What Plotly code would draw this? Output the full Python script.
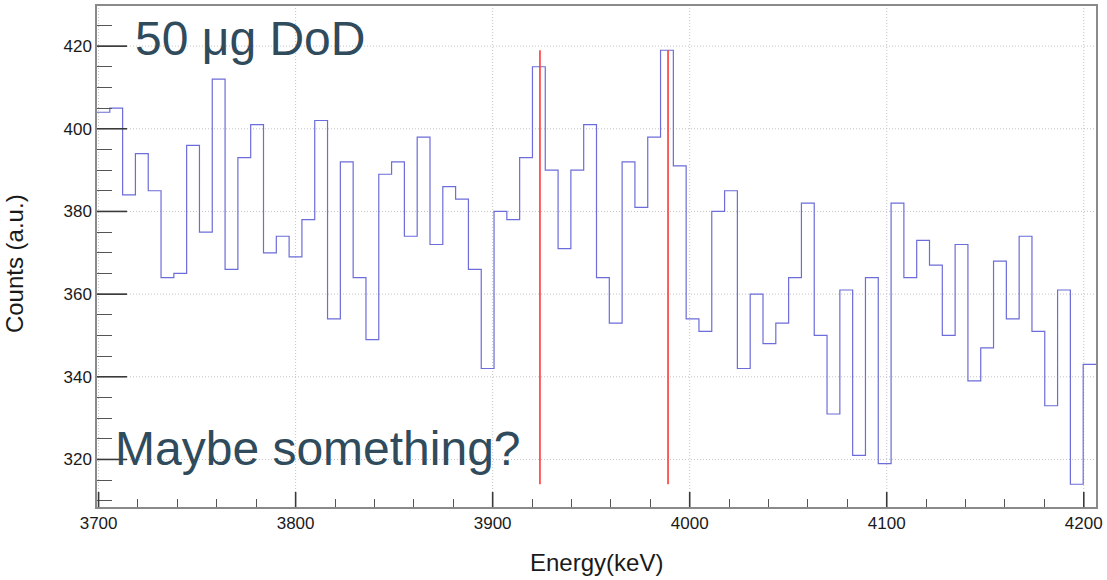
import numpy as np
import plotly.graph_objects as go

# Histogram binning (keV)
bin_low = 3699.2
bin_width = 6.5

# Counts per bin
counts = [
    404, 405, 384, 394, 385, 364, 365, 396, 375, 412,
    366, 393, 401, 370, 374, 369, 378, 402, 354, 392,
    364, 349, 389, 392, 374, 398, 372, 386, 383, 366,
    342, 380, 378, 393, 415, 390, 371, 390, 401, 364,
    353, 392, 381, 398, 419, 391, 354, 351, 380, 385,
    342, 360, 348, 353, 364, 382, 350, 331, 361, 321,
    364, 319, 382, 364, 373, 367, 350, 372, 339, 347,
    368, 354, 374, 351, 333, 361, 314, 343,
]

# Marker lines for the expected peak energies
marker_energies = [3924, 3989]
marker_ymin = 314
marker_ymax = 419

x_ticks = [3700, 3800, 3900, 4000, 4100, 4200]
y_ticks = [320, 340, 360, 380, 400, 420]

edges = bin_low + bin_width * np.arange(len(counts) + 1)
step_x = list(edges)
step_y = counts + [counts[-1]]

FONT = "Liberation Sans, Arial, Helvetica, sans-serif"
TEXT_COLOR = "#2f4b5c"
GRID = dict(color="#c4c4c4", width=1, dash="1px,2px")
TICK = dict(color="#3a3a3a", width=1.6)
MAJOR_TICK_FRAC = 0.03  # ROOT-style tick length, fraction of the frame

fig = go.Figure()

# Dotted grid and long major ticks at the labelled positions
for v in x_ticks:
    fig.add_shape(type="line", xref="x", yref="paper", x0=v, x1=v, y0=0, y1=1,
                  line=GRID, layer="below")
    fig.add_shape(type="line", xref="x", yref="paper", x0=v, x1=v,
                  y0=0, y1=MAJOR_TICK_FRAC, line=TICK, layer="above")
for v in y_ticks:
    fig.add_shape(type="line", xref="paper", yref="y", x0=0, x1=1, y0=v, y1=v,
                  line=GRID, layer="below")
    fig.add_shape(type="line", xref="paper", yref="y", x0=0,
                  x1=MAJOR_TICK_FRAC, y0=v, y1=v, line=TICK, layer="above")

fig.add_trace(go.Scatter(
    x=step_x, y=step_y, mode="lines", line_shape="hv",
    line=dict(color="#6c6cda", width=1.2),
    hoverinfo="skip", showlegend=False,
))

for e in marker_energies:
    fig.add_trace(go.Scatter(
        x=[e, e], y=[marker_ymin, marker_ymax], mode="lines",
        line=dict(color="#ff3838", width=1.6),
        hoverinfo="skip", showlegend=False,
    ))

axis_common = dict(
    showline=True, linecolor="#8a8a8a", linewidth=1.5, mirror=True,
    ticks="inside", tickcolor="#555555", tickwidth=1,
    showgrid=False, zeroline=False,
    tickfont=dict(family=FONT, size=17, color="#1a1a1a"),
)

fig.update_xaxes(
    range=[edges[0], edges[-1]],
    tickmode="linear", tick0=3700, dtick=100,
    ticklen=15,
    minor=dict(ticks="inside", dtick=20, tick0=3700, ticklen=8,
               tickcolor="#555555", showgrid=False),
    **axis_common,
)
fig.update_yaxes(
    range=[308.5, 429.7],
    tickmode="linear", tick0=320, dtick=20,
    ticklen=30,
    minor=dict(ticks="inside", dtick=5, tick0=300, ticklen=15,
               tickcolor="#555555", showgrid=False),
    **axis_common,
)

# Axis titles
fig.add_annotation(
    text="Energy(keV)", xref="paper", yref="paper",
    x=0.5, y=-0.111, xanchor="center", yanchor="middle",
    showarrow=False, font=dict(family=FONT, size=24, color="#1a1a1a"),
)
fig.add_annotation(
    text="Counts (a.u.)", xref="paper", yref="paper",
    x=-0.083, y=0.485, xanchor="center", yanchor="middle", textangle=-90,
    showarrow=False, font=dict(family=FONT, size=24, color="#1a1a1a"),
)

# Slide-style captions
fig.add_annotation(
    text="50 μg DoD", xref="paper", yref="paper",
    x=0.036, y=0.935, xanchor="left", yanchor="middle",
    showarrow=False, font=dict(family=FONT, size=48, color=TEXT_COLOR),
)
fig.add_annotation(
    text="Maybe something?", xref="paper", yref="paper",
    x=0.016, y=0.117, xanchor="left", yanchor="middle",
    showarrow=False, font=dict(family=FONT, size=48, color=TEXT_COLOR),
)

fig.update_layout(
    width=1107, height=580,
    margin=dict(l=97, r=9, t=4, b=73),
    paper_bgcolor="white", plot_bgcolor="white",
    showlegend=False,
)

fig.write_html("out.html")
